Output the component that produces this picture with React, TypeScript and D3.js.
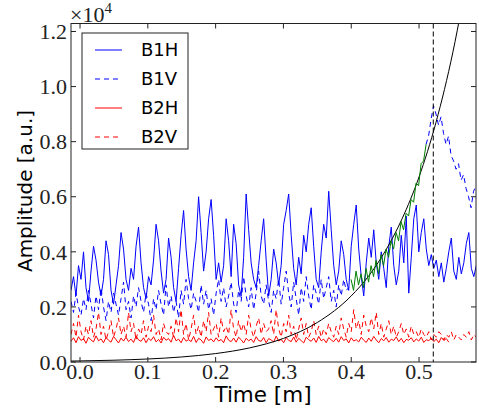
import React from "react";
import * as d3 from "d3";

const W = 479;
const H = 412;
const PLOT = { left: 71, right: 476, top: 23.5, bottom: 362 };

const X_DOMAIN = [-0.0133, 0.584];
const Y_DOMAIN = [0, 1.229];
const X_TICKS = [0, 0.1, 0.2, 0.3, 0.4, 0.5];
const Y_TICKS = [0, 0.2, 0.4, 0.6, 0.8, 1.0, 1.2];
const MARKER_T = 0.521;
const SCALE_LABEL = "×10";
const SCALE_EXP = "4";
const X_LABEL = "Time [m]";
const Y_LABEL = "Amplitude [a.u.]";

// sampling grid of the measured traces (time in minutes)
const T0 = -0.0133;
const DT = 0.00369;

const B1H = [
  0.26,0.31,0.24,0.35,0.30,0.40,0.27,0.22,0.33,0.42,0.37,0.29,0.24,0.30,0.44,0.39,0.26,0.21,0.28,0.35,
  0.47,0.41,0.30,0.26,0.34,0.30,0.42,0.49,0.36,0.27,0.23,0.31,0.28,0.37,0.50,0.44,0.33,0.25,0.30,0.45,
  0.38,0.27,0.22,0.34,0.46,0.55,0.41,0.31,0.26,0.36,0.44,0.60,0.47,0.33,0.40,0.52,0.59,0.46,0.30,0.36,
  0.29,0.35,0.52,0.44,0.31,0.50,0.43,0.28,0.24,0.38,0.61,0.48,0.36,0.30,0.27,0.35,0.44,0.52,0.37,0.24,
  0.30,0.41,0.36,0.28,0.35,0.50,0.55,0.61,0.46,0.34,0.28,0.38,0.32,0.46,0.40,0.50,0.56,0.42,0.30,0.27,
  0.40,0.50,0.45,0.62,0.48,0.35,0.28,0.33,0.44,0.39,0.30,0.26,0.42,0.50,0.57,0.41,0.31,0.24,0.36,0.45,
  0.38,0.48,0.36,0.30,0.40,0.34,0.27,0.42,0.49,0.35,0.28,0.33,0.46,0.36,0.53,0.25,0.38,0.52,0.57,0.40,
  0.47,0.52,0.41,0.35,
  0.39,0.34,0.37,0.31,0.36,0.29,0.34,0.40,0.45,0.33,0.30,0.38,0.32,0.36,0.43,0.47,0.34,0.31,0.35,0.32,
];

const B1V_EARLY = [
  0.22,0.18,0.25,0.20, 0.17,0.23,0.19,0.26, 0.21,0.16,0.24,0.19, 0.27,0.20,0.15,0.22,
  0.18,0.25,0.21,0.17, 0.23,0.29,0.19,0.22, 0.16,0.24,0.20,0.27, 0.22,0.18,0.25,0.21,
  0.15,0.23,0.19,0.26, 0.21,0.17,0.28,0.20, 0.24,0.18,0.22,0.16, 0.26,0.21,0.30,0.23,
  0.19,0.25,0.22,0.18, 0.28,0.21,0.26,0.19, 0.23,0.17,0.25,0.30, 0.22,0.27,0.20,0.24,
  0.29,0.21,0.18,0.26, 0.22,0.31,0.24,0.20, 0.27,0.19,0.25,0.33, 0.24,0.21,0.28,0.22,
  0.18,0.26,0.23,0.30, 0.21,0.27,0.33,0.25, 0.20,0.29,0.23,0.17, 0.27,0.22,0.31,0.24,
  0.19,0.28,0.25,0.21, 0.30,0.23,0.27,0.31, 0.22,0.26,0.20,0.28, 0.24,0.30,0.26,0.27,
];
const B1V_LATE_T0 = 0.5103;
const B1V_LATE = [
  0.79,0.82,0.88,0.93,0.90,0.86,0.89,0.83,0.79,0.82,0.75,0.73,0.70,0.72,0.66,0.68,
  0.63,0.60,0.56,0.62,0.64,
];

const GREEN_T0 = 0.3997;
const GREEN = [
  0.30,0.26,0.33,0.28,0.32,0.27,0.34,0.29,0.35,0.31,0.37,0.32,0.39,0.35,0.41,0.38,
  0.44,0.41,0.47,0.44,0.51,0.48,0.54,0.53,0.59,0.58,0.65,0.64,0.72,0.73,0.79,
];

const B2H = [
  0.075,0.088,0.07,0.092,0.078,0.085,0.068,0.09,0.08,0.073,0.095,0.077,
  0.084,0.07,0.089,0.079,0.072,0.093,0.081,0.069,0.087,0.076,0.09,0.074,
  0.083,0.071,0.094,0.08,0.075,0.088,0.07,0.086,0.078,0.092,0.073,0.082,
  0.069,0.09,0.079,0.085,0.072,0.097,0.077,0.083,0.07,0.089,0.076,0.081,
  0.074,0.093,0.071,0.086,0.08,0.068,0.091,0.078,0.084,0.073,0.088,0.076,
  0.082,0.07,0.095,0.079,0.074,0.087,0.072,0.09,0.081,0.069,0.086,0.077,
  0.083,0.071,0.092,0.078,0.075,0.089,0.07,0.085,0.08,0.073,0.094,0.076,
  0.082,0.07,0.088,0.079,0.074,0.091,0.072,0.086,0.078,0.069,0.09,0.081,
  0.075,0.087,0.071,0.093,0.077,0.083,0.07,0.089,0.08,0.074,0.086,0.072,
  0.092,0.078,0.084,0.069,0.088,0.076,0.081,0.073,0.09,0.079,0.071,0.087,
  0.075,0.093,0.08,0.07,0.085,0.077,0.089,0.072,0.083,0.078,0.091,0.074,
  0.086,0.07,0.082,0.079,0.088,0.073,0.084,0.076,0.09,0.071,0.081,0.077,
  0.087,0.074,0.083,0.07,0.089,0.078,0.085,0.072,
];

const B2V = [
  0.10,0.14,0.09,0.17,0.11,0.08,0.13,0.10,0.15,0.09,0.12,0.18,0.10,0.13,0.08,0.11,0.15,0.09,0.12,0.16,
  0.10,0.13,0.09,0.18,0.11,0.14,0.08,0.12,0.10,0.15,0.09,0.13,0.11,0.17,0.10,0.12,0.08,0.14,0.11,0.10,
  0.13,0.09,0.16,0.11,0.19,0.10,0.14,0.08,0.12,0.17,0.10,0.13,0.09,0.15,0.11,0.18,0.10,0.12,0.14,0.09,
  0.16,0.11,0.13,0.10,0.19,0.12,0.09,0.15,0.11,0.14,0.10,0.17,0.12,0.09,0.13,0.16,0.10,0.14,0.11,0.12,
  0.15,0.10,0.19,0.12,0.09,0.14,0.11,0.17,0.10,0.13,0.08,0.12,0.16,0.10,0.14,0.09,0.11,0.15,0.10,0.13,
  0.09,0.12,0.10,0.14,0.11,0.09,0.13,0.10,0.16,0.12,0.09,0.14,0.11,0.19,0.12,0.15,0.10,0.17,0.13,0.11,
  0.16,0.12,0.18,0.10,0.14,0.09,0.12,0.15,0.10,0.13,0.09,0.11,0.14,0.10,0.12,0.09,0.13,0.10,0.11,0.09,
  0.12,0.10,0.09,0.11,0.08,0.10,0.09,0.11,0.10,0.08,0.10,0.09,0.11,0.08,0.10,0.09,0.08,0.10,0.09,0.11,
  0.08,0.10,0.09,0.10,
];

// exponential fit curve
const FIT_T = [-0.0133, 0, 0.05, 0.1, 0.15, 0.2, 0.25, 0.3, 0.35, 0.4, 0.425, 0.45, 0.475, 0.5, 0.525, 0.55, 0.575];
const FIT_V = [0.0034, 0.0039, 0.0065, 0.0109, 0.0183, 0.0306, 0.0512, 0.0857, 0.1435, 0.24, 0.31, 0.402, 0.52, 0.672, 0.87, 1.126, 1.456];

const LEGEND = [
  { name: "B1H", color: "#0000ff", dash: null },
  { name: "B1V", color: "#0000ff", dash: "5,4" },
  { name: "B2H", color: "#ff0000", dash: null },
  { name: "B2V", color: "#ff0000", dash: "5,4" },
];

const SERIF = "'Liberation Serif', 'DejaVu Serif', serif";
const SANS = "'DejaVu Sans', sans-serif";

export default function App() {
  const x = d3.scaleLinear().domain(X_DOMAIN).range([PLOT.left, PLOT.right]);
  const y = d3.scaleLinear().domain(Y_DOMAIN).range([PLOT.bottom, PLOT.top]);

  const seriesPath = (vals: number[], t0: number) =>
    d3
      .line<number>()
      .x((_, i) => x(t0 + i * DT))
      .y((v) => y(v))(vals) || "";

  const fitPath =
    d3
      .line<number>()
      .x((_, i) => x(FIT_T[i]))
      .y((v) => y(v))
      .curve(d3.curveMonotoneX)(FIT_V) || "";

  const frame = "#222";
  const tickLen = 5;

  return (
    <div style={{ position: "absolute", left: 0, top: 0 }}>
      <svg width={W} height={H} style={{ display: "block", background: "#fff" }}>
        <defs>
          <clipPath id="plotclip">
            <rect x={PLOT.left} y={PLOT.top} width={PLOT.right - PLOT.left} height={PLOT.bottom - PLOT.top} />
          </clipPath>
        </defs>

        <g clipPath="url(#plotclip)" fill="none" strokeWidth={1} strokeLinejoin="round">
          <path d={seriesPath(B2H, T0)} stroke="#ff0000" />
          <path d={seriesPath(B2V, T0)} stroke="#ff0000" strokeDasharray="5,4" />
          <path d={seriesPath(B1V_EARLY, T0)} stroke="#0000ff" strokeDasharray="5,4" />
          <path d={seriesPath(B1V_LATE, B1V_LATE_T0)} stroke="#0000ff" strokeDasharray="5,4" />
          <path d={seriesPath(B1H, T0)} stroke="#0000ff" />
          <path d={fitPath} stroke="#000" />
          <path d={seriesPath(GREEN, GREEN_T0)} stroke="#008000" />
          <line
            x1={x(MARKER_T)}
            x2={x(MARKER_T)}
            y1={PLOT.top}
            y2={PLOT.bottom}
            stroke="#000"
            strokeDasharray="5,3"
          />
        </g>

        {/* frame */}
        <rect
          x={PLOT.left}
          y={PLOT.top}
          width={PLOT.right - PLOT.left}
          height={PLOT.bottom - PLOT.top}
          fill="none"
          stroke={frame}
          strokeWidth={1}
        />

        {/* x ticks */}
        {X_TICKS.map((t) => (
          <g key={"xt" + t}>
            <line x1={x(t)} x2={x(t)} y1={PLOT.bottom} y2={PLOT.bottom - tickLen} stroke={frame} />
            <line x1={x(t)} x2={x(t)} y1={PLOT.top} y2={PLOT.top + tickLen} stroke={frame} />
            <text x={x(t)} y={379} textAnchor="middle" fontFamily={SERIF} fontSize={22} fill="#222">
              {d3.format(".1f")(t)}
            </text>
          </g>
        ))}

        {/* y ticks */}
        {Y_TICKS.map((v) => (
          <g key={"yt" + v}>
            <line x1={PLOT.left} x2={PLOT.left + tickLen} y1={y(v)} y2={y(v)} stroke={frame} />
            <line x1={PLOT.right} x2={PLOT.right - tickLen} y1={y(v)} y2={y(v)} stroke={frame} />
            <text
              x={67}
              y={y(v)}
              dy="0.35em"
              textAnchor="end"
              fontFamily={SERIF}
              fontSize={22}
              fill="#222"
            >
              {d3.format(".1f")(v)}
            </text>
          </g>
        ))}

        {/* ×10^4 */}
        <text x={70} y={22} fontFamily={SERIF} fontSize={22} fill="#222">
          {SCALE_LABEL}
          <tspan fontSize={15} dy={-9}>
            {SCALE_EXP}
          </tspan>
        </text>

        {/* axis labels */}
        <text x={263} y={402} textAnchor="middle" fontFamily={SANS} fontSize={21.5} fill="#000">
          {X_LABEL}
        </text>
        <text
          transform={`translate(32,191) rotate(-90)`}
          textAnchor="middle"
          fontFamily={SANS}
          fontSize={20}
          fill="#000"
        >
          {Y_LABEL}
        </text>

        {/* legend */}
        <g>
          <rect x={82} y={33} width={106} height={116} fill="#fff" stroke={frame} strokeWidth={1} />
          {LEGEND.map((s, i) => {
            const ly = 50 + i * 29;
            return (
              <g key={s.name}>
                <line
                  x1={95}
                  x2={122}
                  y1={ly}
                  y2={ly}
                  stroke={s.color}
                  strokeWidth={1}
                  strokeDasharray={s.dash || undefined}
                />
                <text x={141} y={ly} dy="0.36em" fontFamily={SANS} fontSize={18} fill="#000">
                  {s.name}
                </text>
              </g>
            );
          })}
        </g>
      </svg>
    </div>
  );
}
